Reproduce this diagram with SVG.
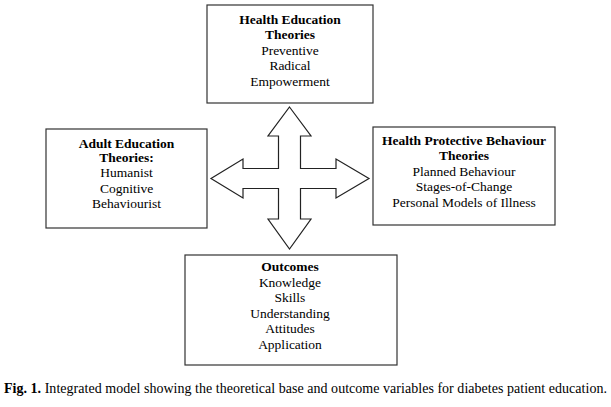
<svg xmlns="http://www.w3.org/2000/svg" width="611" height="407" viewBox="0 0 611 407">
<style>
.box{fill:#fff;stroke:#333;stroke-width:1.2}
.t{font-family:"Liberation Serif","Times New Roman",serif;font-size:13.5px;fill:#000;text-anchor:middle}
.b{font-weight:bold}
.cap{font-family:"Liberation Serif","Times New Roman",serif;font-size:14px;fill:#000}
</style>
<rect width="611" height="407" fill="#fff"/>
<g id="connectors">
<path d="M289.5,107 L311,136 L300.5,136 L300.5,168.5 L336,168.5 L336,159 L369,178.5 L336,198 L336,188.5 L300.5,188.5 L300.5,219 L311,219 L289.5,249 L268,219 L278.5,219 L278.5,188.5 L243,188.5 L243,198 L211,178.5 L243,159 L243,168.5 L278.5,168.5 L278.5,136 L268,136 Z" fill="#fff" stroke="#222" stroke-width="1.2" stroke-linejoin="miter"/>
</g>
<g id="health-education">
<rect class="box" x="207" y="5" width="166" height="98"/>
<text class="t b" x="290" y="24">Health Education</text>
<text class="t b" x="290" y="39">Theories</text>
<text class="t" x="290" y="54.5">Preventive</text>
<text class="t" x="290" y="70">Radical</text>
<text class="t" x="290" y="85.5">Empowerment</text>
</g>
<g id="adult-education">
<rect class="box" x="46" y="129" width="161" height="99"/>
<text class="t b" x="126.5" y="148">Adult Education</text>
<text class="t b" x="126.5" y="161.5">Theories:</text>
<text class="t" x="126.5" y="176.5">Humanist</text>
<text class="t" x="126.5" y="192.5">Cognitive</text>
<text class="t" x="126.5" y="208">Behaviourist</text>
</g>
<g id="health-protective">
<rect class="box" x="373" y="127" width="182" height="98"/>
<text class="t b" x="464" y="144.5">Health Protective Behaviour</text>
<text class="t b" x="464" y="160">Theories</text>
<text class="t" x="464" y="175.5">Planned Behaviour</text>
<text class="t" x="464" y="190.5">Stages-of-Change</text>
<text class="t" x="464" y="206.5">Personal Models of Illness</text>
</g>
<g id="outcomes">
<rect class="box" x="185" y="255" width="212" height="110"/>
<text class="t b" x="290" y="271">Outcomes</text>
<text class="t" x="290" y="287">Knowledge</text>
<text class="t" x="290" y="302">Skills</text>
<text class="t" x="290" y="318">Understanding</text>
<text class="t" x="290" y="333">Attitudes</text>
<text class="t" x="290" y="348.5">Application</text>
</g>
<text class="cap" x="4" y="393" textLength="603"><tspan font-weight="bold">Fig. 1.</tspan> Integrated model showing the theoretical base and outcome variables for diabetes patient education.</text>
</svg>
